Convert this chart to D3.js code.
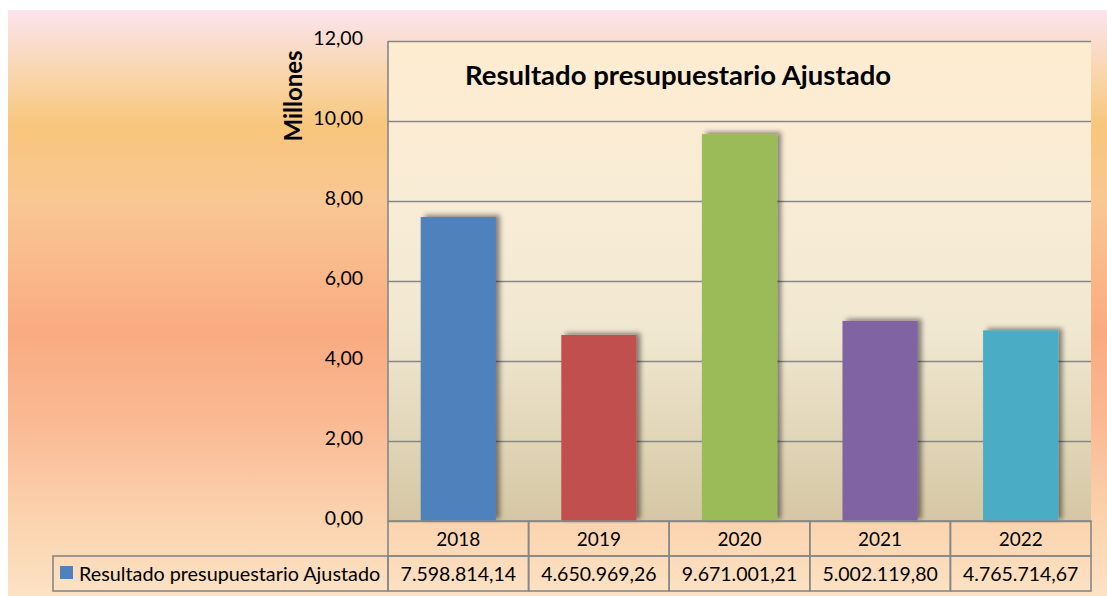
<!DOCTYPE html>
<html>
<head>
<meta charset="utf-8">
<script src="https://cdn.jsdelivr.net/npm/d3@7"></script>
<style>
  html, body { margin: 0; padding: 0; background: #fff; }
  svg { display: block; font-family: Lato, "Open Sans", sans-serif; }
</style>
</head>
<body>
<svg id="chart" width="1107" height="596"></svg>
<script>
// ---- data -----------------------------------------------------------------
const years = ['2018', '2019', '2020', '2021', '2022'];
const values = [7598814.14, 4650969.26, 9671001.21, 5002119.80, 4765714.67];
const barColors = ['#4f81bd', '#c0504d', '#9bbb59', '#8064a2', '#4bacc6'];
const yTicks = [0, 2, 4, 6, 8, 10, 12];
const seriesName = 'Resultado presupuestario Ajustado';
const chartTitle = 'Resultado presupuestario Ajustado';
const axisTitle = 'Millones';

// ---- layout ---------------------------------------------------------------
const W = 1107, H = 596;
const plot = { left: 388, right: 1091, top: 41, bottom: 521 };
const rowH = 35;
const legendLeft = 53;

const svg = d3.select('#chart');
const defs = svg.append('defs');

// outer background gradient
const bg = defs.append('linearGradient').attr('id', 'bg').attr('x1', 0).attr('y1', 0).attr('x2', 0).attr('y2', 1);
[[0, '#fce4ee'], [0.06, '#fadccb'], [0.12, '#f9d4a6'], [0.2, '#f8c67c'], [0.33, '#f9c793'],
 [0.55, '#faab80'], [0.7, '#fab993'], [0.86, '#fbd2ad'], [1, '#fce2c4']]
  .forEach(([o, c]) => bg.append('stop').attr('offset', o).attr('stop-color', c));

// plot area gradient
const pg = defs.append('linearGradient').attr('id', 'plotbg').attr('x1', 0).attr('y1', 0).attr('x2', 0).attr('y2', 1);
[[0, '#feecd0'], [0.35, '#f8ecd6'], [0.6, '#f1e8d2'], [0.8, '#e3d8bb'], [1, '#d5c7a4']]
  .forEach(([o, c]) => pg.append('stop').attr('offset', o).attr('stop-color', c));

// bar shadow
const sh = defs.append('filter').attr('id', 'shadow')
  .attr('x', '-20%').attr('y', '-20%').attr('width', '150%').attr('height', '140%');
sh.append('feDropShadow').attr('dx', 4).attr('dy', -2).attr('stdDeviation', 2.6)
  .attr('flood-color', '#000').attr('flood-opacity', 0.45);

svg.append('rect').attr('x', 8).attr('y', 10).attr('width', W - 8).attr('height', H - 10)
  .attr('fill', 'url(#bg)');

// ---- scales ---------------------------------------------------------------
const x = d3.scaleBand().domain(years).range([plot.left, plot.right])
  .paddingInner(0.465).paddingOuter(0.2325);
const col = d3.scaleBand().domain(years).range([plot.left, plot.right]);
const y = d3.scaleLinear().domain([0, 12]).range([plot.bottom, plot.top]);
const fmtTick = d => d.toFixed(2).replace('.', ',');
const fmtVal = d3.formatLocale({ decimal: ',', thousands: '.', grouping: [3], currency: ['', ''] }).format(',.2f');

// ---- plot area ------------------------------------------------------------
svg.append('rect').attr('x', plot.left).attr('y', plot.top)
  .attr('width', plot.right - plot.left).attr('height', plot.bottom - plot.top)
  .attr('fill', 'url(#plotbg)');

const yAxis = svg.append('g').attr('transform', `translate(${plot.left},0)`)
  .call(d3.axisLeft(y).tickValues(yTicks).tickFormat(fmtTick)
    .tickSize(-(plot.right - plot.left)).tickPadding(25));
yAxis.select('.domain').remove();
yAxis.selectAll('.tick line').attr('stroke', '#878787').attr('stroke-width', 1.6);
yAxis.selectAll('.tick text').attr('fill', '#000').attr('font-size', 19.5)
  .attr('font-family', 'Lato, "Open Sans", sans-serif').attr('dy', '0.2em');

// left border of plot
svg.append('line').attr('x1', plot.left).attr('x2', plot.left)
  .attr('y1', plot.top).attr('y2', plot.bottom)
  .attr('stroke', '#878787').attr('stroke-width', 1.6);

// bars
svg.append('g').selectAll('rect')
  .data(values)
  .join('rect')
  .attr('x', (d, i) => x(years[i]))
  .attr('y', d => y(d / 1e6))
  .attr('width', x.bandwidth())
  .attr('height', d => y(0) - y(d / 1e6))
  .attr('fill', (d, i) => barColors[i])
  .attr('filter', 'url(#shadow)');

// chart title
svg.append('text').attr('x', 465).attr('y', 85)
  .attr('font-size', 27.5).attr('font-weight', 'bold').attr('fill', '#000')
  .text(chartTitle);

// axis title
svg.append('text')
  .attr('transform', 'translate(302,96) rotate(-90)')
  .attr('text-anchor', 'middle')
  .attr('font-size', 24).attr('font-weight', 'bold').attr('fill', '#000')
  .text(axisTitle);

// ---- data table -----------------------------------------------------------
const tbl = svg.append('g').attr('fill', 'none').attr('stroke', '#878787').attr('stroke-width', 1.6);
// header row (years)
tbl.selectAll('rect.hdr').data(years).join('rect').attr('class', 'hdr')
  .attr('x', d => col(d)).attr('y', plot.bottom)
  .attr('width', col.bandwidth()).attr('height', rowH);
// value row
tbl.selectAll('rect.val').data(years).join('rect').attr('class', 'val')
  .attr('x', d => col(d)).attr('y', plot.bottom + rowH)
  .attr('width', col.bandwidth()).attr('height', rowH);
// legend cell
tbl.append('rect').attr('x', legendLeft).attr('y', plot.bottom + rowH)
  .attr('width', plot.left - legendLeft).attr('height', rowH);

svg.append('g').selectAll('text').data(years).join('text')
  .attr('x', d => col(d) + col.bandwidth() / 2)
  .attr('y', plot.bottom + rowH / 2 + 7)
  .attr('text-anchor', 'middle').attr('font-size', 19).attr('fill', '#000')
  .text(d => d);

svg.append('g').selectAll('text').data(values).join('text')
  .attr('x', (d, i) => col(years[i]) + col.bandwidth() / 2)
  .attr('y', plot.bottom + rowH * 1.5 + 7)
  .attr('text-anchor', 'middle').attr('font-size', 19.5).attr('fill', '#000')
  .text(d => fmtVal(d));

// legend key + label
svg.append('rect').attr('x', legendLeft + 7).attr('y', plot.bottom + rowH + 10)
  .attr('width', 13).attr('height', 13).attr('fill', barColors[0]);
svg.append('text').attr('x', legendLeft + 26).attr('y', plot.bottom + rowH * 1.5 + 7)
  .attr('font-size', 19.8).attr('fill', '#000')
  .text(seriesName);
</script>
</body>
</html>
